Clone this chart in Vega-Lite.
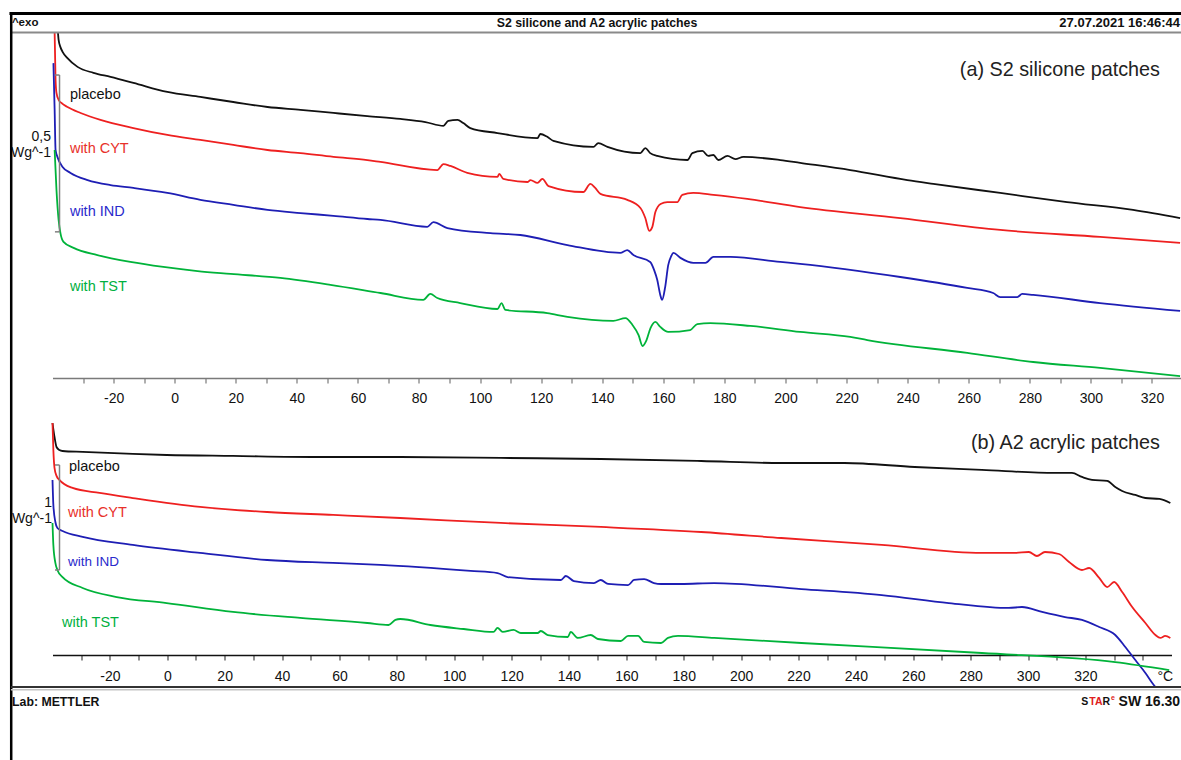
{
  "$schema": "https://vega.github.io/schema/vega-lite/v6.json",
  "autosize": {"type": "none"},
  "padding": {"left": 52.5, "top": 33, "right": 1128.5, "bottom": 727},
  "background": "white",
  "spacing": 35,
  "bounds": "flush",
  "config": {
    "view": {"stroke": null}
  },
  "datasets": {
    "silicone": [
      {"s":"placebo","t":-38.2,"q":1.100},{"s":"placebo","t":-38.0,"q":1.078},{"s":"placebo","t":-37.4,"q":1.055},{"s":"placebo","t":-36.7,"q":1.040},{"s":"placebo","t":-35.1,"q":1.020},{"s":"placebo","t":-31.8,"q":0.992},{"s":"placebo","t":-26.6,"q":0.973},{"s":"placebo","t":-21.0,"q":0.960},{"s":"placebo","t":-13.5,"q":0.941},{"s":"placebo","t":-2.4,"q":0.912},{"s":"placebo","t":8.4,"q":0.896},{"s":"placebo","t":19.2,"q":0.880},{"s":"placebo","t":30.4,"q":0.864},{"s":"placebo","t":41.2,"q":0.855},{"s":"placebo","t":52.0,"q":0.845},{"s":"placebo","t":63.1,"q":0.835},{"s":"placebo","t":73.9,"q":0.826},{"s":"placebo","t":82.1,"q":0.816},{"s":"placebo","t":88.0,"q":0.804},{"s":"placebo","t":89.6,"q":0.820},{"s":"placebo","t":92.6,"q":0.823},{"s":"placebo","t":94.5,"q":0.813},{"s":"placebo","t":96.8,"q":0.797},{"s":"placebo","t":105.7,"q":0.781},{"s":"placebo","t":118.8,"q":0.765},{"s":"placebo","t":119.7,"q":0.778},{"s":"placebo","t":122.0,"q":0.769},{"s":"placebo","t":124.0,"q":0.756},{"s":"placebo","t":137.1,"q":0.737},{"s":"placebo","t":138.7,"q":0.749},{"s":"placebo","t":141.7,"q":0.737},{"s":"placebo","t":152.5,"q":0.717},{"s":"placebo","t":154.1,"q":0.733},{"s":"placebo","t":155.7,"q":0.717},{"s":"placebo","t":158.0,"q":0.708},{"s":"placebo","t":167.9,"q":0.695},{"s":"placebo","t":169.5,"q":0.717},{"s":"placebo","t":172.8,"q":0.724},{"s":"placebo","t":174.7,"q":0.708},{"s":"placebo","t":176.4,"q":0.711},{"s":"placebo","t":178.0,"q":0.695},{"s":"placebo","t":181.0,"q":0.708},{"s":"placebo","t":183.6,"q":0.698},{"s":"placebo","t":186.2,"q":0.705},{"s":"placebo","t":198.3,"q":0.695},{"s":"placebo","t":204.8,"q":0.686},{"s":"placebo","t":221.2,"q":0.663},{"s":"placebo","t":239.9,"q":0.631},{"s":"placebo","t":248.4,"q":0.619},{"s":"placebo","t":270.3,"q":0.590},{"s":"placebo","t":292.2,"q":0.561},{"s":"placebo","t":313.8,"q":0.536},{"s":"placebo","t":329.2,"q":0.510},
      {"s":"with CYT","t":-39.3,"q":1.100},{"s":"with CYT","t":-39.0,"q":0.950},{"s":"with CYT","t":-38.7,"q":0.909},{"s":"with CYT","t":-38.0,"q":0.887},{"s":"with CYT","t":-36.7,"q":0.874},{"s":"with CYT","t":-35.1,"q":0.864},{"s":"with CYT","t":-30.8,"q":0.845},{"s":"with CYT","t":-24.3,"q":0.823},{"s":"with CYT","t":-13.5,"q":0.797},{"s":"with CYT","t":-2.4,"q":0.775},{"s":"with CYT","t":8.4,"q":0.759},{"s":"with CYT","t":19.2,"q":0.743},{"s":"with CYT","t":30.4,"q":0.727},{"s":"with CYT","t":41.2,"q":0.717},{"s":"with CYT","t":52.0,"q":0.705},{"s":"with CYT","t":63.1,"q":0.695},{"s":"with CYT","t":67.4,"q":0.689},{"s":"with CYT","t":86.0,"q":0.663},{"s":"with CYT","t":88.0,"q":0.682},{"s":"with CYT","t":90.3,"q":0.676},{"s":"with CYT","t":95.8,"q":0.654},{"s":"with CYT","t":105.7,"q":0.641},{"s":"with CYT","t":106.3,"q":0.651},{"s":"with CYT","t":107.6,"q":0.635},{"s":"with CYT","t":115.5,"q":0.625},{"s":"with CYT","t":116.5,"q":0.631},{"s":"with CYT","t":118.8,"q":0.622},{"s":"with CYT","t":120.4,"q":0.635},{"s":"with CYT","t":122.4,"q":0.612},{"s":"with CYT","t":133.8,"q":0.593},{"s":"with CYT","t":136.1,"q":0.619},{"s":"with CYT","t":137.7,"q":0.606},{"s":"with CYT","t":139.4,"q":0.587},{"s":"with CYT","t":148.2,"q":0.568},{"s":"with CYT","t":152.5,"q":0.542},{"s":"with CYT","t":154.1,"q":0.510},{"s":"with CYT","t":155.4,"q":0.469},{"s":"with CYT","t":156.4,"q":0.482},{"s":"with CYT","t":157.4,"q":0.529},{"s":"with CYT","t":159.1,"q":0.555},{"s":"with CYT","t":161.3,"q":0.561},{"s":"with CYT","t":164.6,"q":0.561},{"s":"with CYT","t":166.2,"q":0.584},{"s":"with CYT","t":169.8,"q":0.590},{"s":"with CYT","t":176.4,"q":0.584},{"s":"with CYT","t":187.5,"q":0.571},{"s":"with CYT","t":204.8,"q":0.545},{"s":"with CYT","t":237.6,"q":0.510},{"s":"with CYT","t":270.3,"q":0.472},{"s":"with CYT","t":303.0,"q":0.450},{"s":"with CYT","t":329.2,"q":0.431},
      {"s":"with IND","t":-39.7,"q":1.004},{"s":"with IND","t":-39.3,"q":0.855},{"s":"with IND","t":-39.0,"q":0.727},{"s":"with IND","t":-38.4,"q":0.705},{"s":"with IND","t":-36.7,"q":0.673},{"s":"with IND","t":-34.1,"q":0.654},{"s":"with IND","t":-28.5,"q":0.631},{"s":"with IND","t":-21.0,"q":0.615},{"s":"with IND","t":-13.5,"q":0.606},{"s":"with IND","t":-2.4,"q":0.590},{"s":"with IND","t":8.4,"q":0.568},{"s":"with IND","t":19.2,"q":0.552},{"s":"with IND","t":30.4,"q":0.536},{"s":"with IND","t":41.2,"q":0.526},{"s":"with IND","t":52.0,"q":0.517},{"s":"with IND","t":63.1,"q":0.507},{"s":"with IND","t":67.4,"q":0.504},{"s":"with IND","t":82.7,"q":0.482},{"s":"with IND","t":84.7,"q":0.497},{"s":"with IND","t":89.3,"q":0.478},{"s":"with IND","t":103.4,"q":0.462},{"s":"with IND","t":113.2,"q":0.456},{"s":"with IND","t":128.6,"q":0.424},{"s":"with IND","t":145.9,"q":0.399},{"s":"with IND","t":148.2,"q":0.408},{"s":"with IND","t":150.2,"q":0.392},{"s":"with IND","t":155.7,"q":0.370},{"s":"with IND","t":157.0,"q":0.344},{"s":"with IND","t":158.0,"q":0.313},{"s":"with IND","t":159.0,"q":0.265},{"s":"with IND","t":159.6,"q":0.249},{"s":"with IND","t":160.6,"q":0.290},{"s":"with IND","t":161.6,"q":0.360},{"s":"with IND","t":162.6,"q":0.389},{"s":"with IND","t":163.3,"q":0.399},{"s":"with IND","t":165.6,"q":0.383},{"s":"with IND","t":169.8,"q":0.367},{"s":"with IND","t":173.8,"q":0.367},{"s":"with IND","t":176.4,"q":0.386},{"s":"with IND","t":182.0,"q":0.386},{"s":"with IND","t":198.3,"q":0.370},{"s":"with IND","t":204.8,"q":0.364},{"s":"with IND","t":237.6,"q":0.322},{"s":"with IND","t":259.5,"q":0.287},{"s":"with IND","t":268.0,"q":0.271},{"s":"with IND","t":270.3,"q":0.258},{"s":"with IND","t":275.9,"q":0.258},{"s":"with IND","t":277.5,"q":0.268},{"s":"with IND","t":281.1,"q":0.265},{"s":"with IND","t":303.0,"q":0.239},{"s":"with IND","t":329.2,"q":0.214},
      {"s":"with TST","t":-39.3,"q":0.727},{"s":"with TST","t":-38.7,"q":0.600},{"s":"with TST","t":-38.0,"q":0.504},{"s":"with TST","t":-37.4,"q":0.462},{"s":"with TST","t":-36.4,"q":0.434},{"s":"with TST","t":-33.1,"q":0.415},{"s":"with TST","t":-25.3,"q":0.392},{"s":"with TST","t":-14.5,"q":0.370},{"s":"with TST","t":-3.7,"q":0.354},{"s":"with TST","t":7.5,"q":0.341},{"s":"with TST","t":18.3,"q":0.332},{"s":"with TST","t":34.6,"q":0.319},{"s":"with TST","t":51.0,"q":0.297},{"s":"with TST","t":67.4,"q":0.271},{"s":"with TST","t":81.4,"q":0.249},{"s":"with TST","t":83.7,"q":0.268},{"s":"with TST","t":86.0,"q":0.255},{"s":"with TST","t":93.5,"q":0.239},{"s":"with TST","t":105.7,"q":0.220},{"s":"with TST","t":107.0,"q":0.239},{"s":"with TST","t":108.3,"q":0.217},{"s":"with TST","t":122.0,"q":0.207},{"s":"with TST","t":128.6,"q":0.195},{"s":"with TST","t":143.6,"q":0.182},{"s":"with TST","t":147.6,"q":0.191},{"s":"with TST","t":149.9,"q":0.169},{"s":"with TST","t":151.9,"q":0.137},{"s":"with TST","t":153.2,"q":0.102},{"s":"with TST","t":154.5,"q":0.121},{"s":"with TST","t":155.8,"q":0.159},{"s":"with TST","t":157.4,"q":0.179},{"s":"with TST","t":159.0,"q":0.163},{"s":"with TST","t":161.6,"q":0.147},{"s":"with TST","t":168.8,"q":0.153},{"s":"with TST","t":171.1,"q":0.172},{"s":"with TST","t":175.4,"q":0.175},{"s":"with TST","t":188.5,"q":0.166},{"s":"with TST","t":204.8,"q":0.147},{"s":"with TST","t":221.2,"q":0.131},{"s":"with TST","t":226.8,"q":0.121},{"s":"with TST","t":259.5,"q":0.080},{"s":"with TST","t":281.1,"q":0.051},{"s":"with TST","t":303.0,"q":0.032},{"s":"with TST","t":329.2,"q":0.006}
    ],
    "acrylic": [
      {"s":"placebo","t":-40.0,"q":2.205},{"s":"placebo","t":-39.3,"q":2.072},{"s":"placebo","t":-38.6,"q":1.977},{"s":"placebo","t":-37.6,"q":1.949},{"s":"placebo","t":-36.5,"q":1.939},{"s":"placebo","t":-29.5,"q":1.930},{"s":"placebo","t":-12.0,"q":1.911},{"s":"placebo","t":-0.2,"q":1.901},{"s":"placebo","t":22.9,"q":1.892},{"s":"placebo","t":52.2,"q":1.882},{"s":"placebo","t":81.2,"q":1.882},{"s":"placebo","t":116.2,"q":1.873},{"s":"placebo","t":151.1,"q":1.863},{"s":"placebo","t":186.1,"q":1.844},{"s":"placebo","t":214.0,"q":1.825},{"s":"placebo","t":236.0,"q":1.825},{"s":"placebo","t":260.5,"q":1.787},{"s":"placebo","t":283.9,"q":1.759},{"s":"placebo","t":309.4,"q":1.730},{"s":"placebo","t":315.3,"q":1.730},{"s":"placebo","t":318.8,"q":1.692},{"s":"placebo","t":322.3,"q":1.664},{"s":"placebo","t":327.6,"q":1.654},{"s":"placebo","t":330.4,"q":1.597},{"s":"placebo","t":332.8,"q":1.559},{"s":"placebo","t":337.4,"q":1.521},{"s":"placebo","t":340.9,"q":1.492},{"s":"placebo","t":345.8,"q":1.483},{"s":"placebo","t":349.6,"q":1.445},
      {"s":"with CYT","t":-40.0,"q":2.205},{"s":"with CYT","t":-39.7,"q":1.949},{"s":"with CYT","t":-39.3,"q":1.778},{"s":"with CYT","t":-38.6,"q":1.702},{"s":"with CYT","t":-37.6,"q":1.664},{"s":"with CYT","t":-33.0,"q":1.588},{"s":"with CYT","t":-23.6,"q":1.540},{"s":"with CYT","t":-12.0,"q":1.492},{"s":"with CYT","t":11.4,"q":1.407},{"s":"with CYT","t":34.8,"q":1.359},{"s":"with CYT","t":57.8,"q":1.331},{"s":"with CYT","t":81.2,"q":1.302},{"s":"with CYT","t":116.2,"q":1.255},{"s":"with CYT","t":151.1,"q":1.217},{"s":"with CYT","t":186.1,"q":1.169},{"s":"with CYT","t":214.0,"q":1.112},{"s":"with CYT","t":249.0,"q":1.046},{"s":"with CYT","t":283.9,"q":0.970},{"s":"with CYT","t":295.4,"q":0.970},{"s":"with CYT","t":300.3,"q":0.979},{"s":"with CYT","t":303.1,"q":0.941},{"s":"with CYT","t":305.9,"q":0.979},{"s":"with CYT","t":310.8,"q":0.960},{"s":"with CYT","t":314.3,"q":0.884},{"s":"with CYT","t":318.8,"q":0.808},{"s":"with CYT","t":321.3,"q":0.827},{"s":"with CYT","t":324.8,"q":0.732},{"s":"with CYT","t":327.6,"q":0.646},{"s":"with CYT","t":330.0,"q":0.694},{"s":"with CYT","t":332.8,"q":0.599},{"s":"with CYT","t":336.3,"q":0.456},{"s":"with CYT","t":340.9,"q":0.304},{"s":"with CYT","t":344.4,"q":0.190},{"s":"with CYT","t":346.1,"q":0.162},{"s":"with CYT","t":347.8,"q":0.181},{"s":"with CYT","t":349.6,"q":0.162},
      {"s":"with IND","t":-40.0,"q":1.664},{"s":"with IND","t":-39.7,"q":1.426},{"s":"with IND","t":-39.0,"q":1.264},{"s":"with IND","t":-38.3,"q":1.207},{"s":"with IND","t":-36.5,"q":1.179},{"s":"with IND","t":-29.5,"q":1.122},{"s":"with IND","t":-12.0,"q":1.046},{"s":"with IND","t":11.4,"q":0.970},{"s":"with IND","t":34.8,"q":0.903},{"s":"with IND","t":57.8,"q":0.875},{"s":"with IND","t":74.3,"q":0.856},{"s":"with IND","t":105.7,"q":0.799},{"s":"with IND","t":115.1,"q":0.779},{"s":"with IND","t":118.6,"q":0.741},{"s":"with IND","t":137.2,"q":0.713},{"s":"with IND","t":138.9,"q":0.751},{"s":"with IND","t":141.7,"q":0.703},{"s":"with IND","t":148.7,"q":0.684},{"s":"with IND","t":151.1,"q":0.713},{"s":"with IND","t":153.6,"q":0.675},{"s":"with IND","t":160.6,"q":0.665},{"s":"with IND","t":162.7,"q":0.713},{"s":"with IND","t":166.2,"q":0.722},{"s":"with IND","t":169.6,"q":0.684},{"s":"with IND","t":172.1,"q":0.675},{"s":"with IND","t":179.1,"q":0.675},{"s":"with IND","t":190.6,"q":0.684},{"s":"with IND","t":221.0,"q":0.627},{"s":"with IND","t":249.0,"q":0.570},{"s":"with IND","t":272.4,"q":0.494},{"s":"with IND","t":293.3,"q":0.447},{"s":"with IND","t":297.9,"q":0.456},{"s":"with IND","t":304.9,"q":0.409},{"s":"with IND","t":312.9,"q":0.361},{"s":"with IND","t":318.8,"q":0.333},{"s":"with IND","t":324.8,"q":0.266},{"s":"with IND","t":330.4,"q":0.190},{"s":"with IND","t":333.9,"q":0.076},{"s":"with IND","t":337.4,"q":-0.048},{"s":"with IND","t":340.9,"q":-0.171},{"s":"with IND","t":343.3,"q":-0.266},{"s":"with IND","t":344.4,"q":-0.304},
      {"s":"with TST","t":-40.0,"q":1.255},{"s":"with TST","t":-39.7,"q":1.046},{"s":"with TST","t":-39.0,"q":0.875},{"s":"with TST","t":-38.3,"q":0.808},{"s":"with TST","t":-36.5,"q":0.741},{"s":"with TST","t":-29.5,"q":0.637},{"s":"with TST","t":-17.6,"q":0.551},{"s":"with TST","t":-0.2,"q":0.494},{"s":"with TST","t":22.9,"q":0.409},{"s":"with TST","t":46.3,"q":0.352},{"s":"with TST","t":69.7,"q":0.304},{"s":"with TST","t":77.1,"q":0.285},{"s":"with TST","t":79.5,"q":0.333},{"s":"with TST","t":81.2,"q":0.342},{"s":"with TST","t":91.7,"q":0.285},{"s":"with TST","t":103.3,"q":0.247},{"s":"with TST","t":113.7,"q":0.219},{"s":"with TST","t":115.1,"q":0.257},{"s":"with TST","t":116.9,"q":0.219},{"s":"with TST","t":120.7,"q":0.238},{"s":"with TST","t":123.2,"q":0.209},{"s":"with TST","t":129.1,"q":0.209},{"s":"with TST","t":130.2,"q":0.228},{"s":"with TST","t":132.6,"q":0.190},{"s":"with TST","t":139.6,"q":0.171},{"s":"with TST","t":140.6,"q":0.219},{"s":"with TST","t":143.1,"q":0.162},{"s":"with TST","t":147.6,"q":0.190},{"s":"with TST","t":150.1,"q":0.152},{"s":"with TST","t":158.1,"q":0.133},{"s":"with TST","t":160.6,"q":0.181},{"s":"with TST","t":164.1,"q":0.181},{"s":"with TST","t":166.2,"q":0.124},{"s":"with TST","t":172.1,"q":0.114},{"s":"with TST","t":174.5,"q":0.162},{"s":"with TST","t":178.0,"q":0.181},{"s":"with TST","t":190.6,"q":0.162},{"s":"with TST","t":221.0,"q":0.114},{"s":"with TST","t":283.9,"q":0.019},{"s":"with TST","t":330.4,"q":-0.067},{"s":"with TST","t":349.2,"q":-0.143}
    ]
  },
  "vconcat": [
    {
      "width": 1128.5,
      "height": 345,
      "resolve": {"axis": {"x": "independent", "y": "independent"}},
      "layer": [
        {
          "data": {"name": "silicone"},
          "mark": {"type": "line", "strokeWidth": 1.8, "interpolate": "monotone", "clip": false},
          "encoding": {
            "x": {"field": "t", "type": "quantitative", "scale": {"domain": [-40, 329.5], "nice": false, "zero": false},
              "axis": {"orient": "bottom", "title": null, "grid": false,
                "values": [-30,-20,-10,0,10,20,30,40,50,60,70,80,90,100,110,120,130,140,150,160,170,180,190,200,210,220,230,240,250,260,270,280,290,300,310,320],
                "labelExpr": "datum.value % 20 == 0 ? '' + datum.value : ''",
                "labelOverlap": false, "labelFlush": false, "labelFont": "Liberation Sans", "labelFontSize": 14, "labelColor": "#111111",
                "tickSize": 5, "tickWidth": 1.2, "domainWidth": 1.5,
                "domainColor": "#7a7a7a", "tickColor": "#7a7a7a", "labelPadding": 8}},
            "y": {"field": "q", "type": "quantitative", "scale": {"domain": [0, 1.1], "nice": false, "zero": false}, "axis": null},
            "color": {"field": "s", "type": "nominal", "legend": null,
              "scale": {"domain": ["placebo", "with CYT", "with IND", "with TST"], "range": ["#111111", "#ee2020", "#1e1eb4", "#00b33a"]}}
          }
        },
        {"data": {"values": [{}]}, "mark": {"type": "rule", "color": "#808080", "strokeWidth": 1.5, "clip": false},
          "encoding": {"x": {"datum": -37.7, "axis": null}, "y": {"datum": 0.466, "axis": null}, "y2": {"datum": 0.966}}},
        {"data": {"values": [{}]}, "mark": {"type": "rule", "color": "#808080", "strokeWidth": 1.5, "clip": false},
          "encoding": {"x": {"datum": -39.2, "axis": null}, "x2": {"datum": -37.7}, "y": {"datum": 0.466, "axis": null}}},
        {"data": {"values": [{}]}, "mark": {"type": "rule", "color": "#808080", "strokeWidth": 1.5, "clip": false},
          "encoding": {"x": {"datum": -39.2, "axis": null}, "x2": {"datum": -37.7}, "y": {"datum": 0.966, "axis": null}}},
        {"data": {"values": [{}]}, "mark": {"type": "text", "text": "placebo", "align": "left", "baseline": "middle", "font": "Liberation Sans", "fontSize": 14.5, "color": "#111111"},
          "encoding": {"x": {"datum": -34.3, "axis": null}, "y": {"datum": 0.902, "axis": null}}},
        {"data": {"values": [{}]}, "mark": {"type": "text", "text": "with CYT", "align": "left", "baseline": "middle", "font": "Liberation Sans", "fontSize": 14.5, "color": "#e8302a"},
          "encoding": {"x": {"datum": -34.3, "axis": null}, "y": {"datum": 0.730, "axis": null}}},
        {"data": {"values": [{}]}, "mark": {"type": "text", "text": "with IND", "align": "left", "baseline": "middle", "font": "Liberation Sans", "fontSize": 14.5, "color": "#2a2acc"},
          "encoding": {"x": {"datum": -34.3, "axis": null}, "y": {"datum": 0.529, "axis": null}}},
        {"data": {"values": [{}]}, "mark": {"type": "text", "text": "with TST", "align": "left", "baseline": "middle", "font": "Liberation Sans", "fontSize": 14.5, "color": "#00b040"},
          "encoding": {"x": {"datum": -34.3, "axis": null}, "y": {"datum": 0.290, "axis": null}}},
        {"data": {"values": [{}]}, "mark": {"type": "text", "text": "0,5", "align": "right", "baseline": "middle", "font": "Liberation Sans", "fontSize": 14, "color": "#111111"},
          "encoding": {"x": {"datum": -40.5, "axis": null}, "y": {"datum": 0.768, "axis": null}}},
        {"data": {"values": [{}]}, "mark": {"type": "text", "text": "Wg^-1", "align": "right", "baseline": "middle", "font": "Liberation Sans", "fontSize": 14, "color": "#111111"},
          "encoding": {"x": {"datum": -40.5, "axis": null}, "y": {"datum": 0.717, "axis": null}}},
        {"data": {"values": [{}]}, "mark": {"type": "text", "text": "(a) S2 silicone patches", "align": "right", "baseline": "middle", "font": "Liberation Sans", "fontSize": 19.8, "color": "#222222"},
          "encoding": {"x": {"datum": 322.6, "axis": null}, "y": {"datum": 0.982, "axis": null}}},
        {"data": {"values": [{}]}, "mark": {"type": "text", "text": "^exo", "align": "left", "baseline": "middle", "font": "Liberation Sans", "fontWeight": "bold", "fontSize": 11.5, "color": "#111111"},
          "encoding": {"x": {"datum": -53.3, "axis": null}, "y": {"datum": 1.132, "axis": null}}},
        {"data": {"values": [{}]}, "mark": {"type": "text", "text": "S2 silicone and A2 acrylic patches", "align": "center", "baseline": "middle", "font": "Liberation Sans", "fontWeight": "bold", "fontSize": 12.3, "color": "#111111"},
          "encoding": {"x": {"datum": 138.3, "axis": null}, "y": {"datum": 1.132, "axis": null}}},
        {"data": {"values": [{}]}, "mark": {"type": "text", "text": "27.07.2021 16:46:44", "align": "right", "baseline": "middle", "font": "Liberation Sans", "fontWeight": "bold", "fontSize": 13, "color": "#111111"},
          "encoding": {"x": {"datum": 329.2, "axis": null}, "y": {"datum": 1.132, "axis": null}}},
        {"data": {"values": [{}]}, "mark": {"type": "rule", "color": "#8a8a8a", "strokeWidth": 2, "clip": false},
          "encoding": {"x": {"datum": -53.5, "axis": null}, "x2": {"datum": 331}, "y": {"datum": 1.1017, "axis": null}}},
        {"data": {"values": [{}]}, "mark": {"type": "rule", "color": "#000000", "strokeWidth": 3, "clip": false},
          "encoding": {"x": {"datum": -54.1, "axis": null}, "x2": {"datum": 331}, "y": {"datum": 1.1623, "axis": null}}},
        {"data": {"values": [{}]}, "mark": {"type": "rule", "color": "#000000", "strokeWidth": 2.5, "clip": false},
          "encoding": {"x": {"datum": -53.52, "axis": null}, "y": {"datum": 1.1623, "axis": null}, "y2": {"datum": -1.26}}}
      ]
    },
    {
      "width": 1119,
      "height": 242,
      "resolve": {"axis": {"x": "independent", "y": "independent"}},
      "layer": [
        {
          "data": {"name": "acrylic"},
          "mark": {"type": "line", "strokeWidth": 1.8, "interpolate": "monotone", "clip": false},
          "encoding": {
            "x": {"field": "t", "type": "quantitative", "scale": {"domain": [-40, 350], "nice": false, "zero": false},
              "axis": {"orient": "bottom", "title": null, "grid": false,
                "values": [-30,-20,-10,0,10,20,30,40,50,60,70,80,90,100,110,120,130,140,150,160,170,180,190,200,210,220,230,240,250,260,270,280,290,300,310,320,330,340],
                "labelExpr": "datum.value == 340 ? '°C' : (datum.value % 20 == 0 ? '' + datum.value : '')",
                "labelOffset": {"condition": {"test": "datum.value == 340", "value": 22}, "value": 0},
                "labelOverlap": false, "labelFlush": false, "labelFont": "Liberation Sans", "labelFontSize": 14, "labelColor": "#111111",
                "tickSize": 5, "tickWidth": 1.2, "domainWidth": 1.5,
                "domainColor": "#111111", "tickColor": "#444444", "labelPadding": 9}},
            "y": {"field": "q", "type": "quantitative", "scale": {"domain": [0, 2.3], "nice": false, "zero": false}, "axis": null},
            "color": {"field": "s", "type": "nominal", "legend": null,
              "scale": {"domain": ["placebo", "with CYT", "with IND", "with TST"], "range": ["#111111", "#ee2020", "#1e1eb4", "#00b33a"]}}
          }
        },
        {"data": {"values": [{}]}, "mark": {"type": "rule", "color": "#808080", "strokeWidth": 1.5, "clip": false},
          "encoding": {"x": {"datum": -37.56, "axis": null}, "y": {"datum": 0.808, "axis": null}, "y2": {"datum": 1.806}}},
        {"data": {"values": [{}]}, "mark": {"type": "rule", "color": "#808080", "strokeWidth": 1.5, "clip": false},
          "encoding": {"x": {"datum": -39.13, "axis": null}, "x2": {"datum": -37.56}, "y": {"datum": 0.808, "axis": null}}},
        {"data": {"values": [{}]}, "mark": {"type": "rule", "color": "#808080", "strokeWidth": 1.5, "clip": false},
          "encoding": {"x": {"datum": -39.13, "axis": null}, "x2": {"datum": -37.56}, "y": {"datum": 1.806, "axis": null}}},
        {"data": {"values": [{}]}, "mark": {"type": "text", "text": "placebo", "align": "left", "baseline": "middle", "font": "Liberation Sans", "fontSize": 14.5, "color": "#111111"},
          "encoding": {"x": {"datum": -34.25, "axis": null}, "y": {"datum": 1.787, "axis": null}}},
        {"data": {"values": [{}]}, "mark": {"type": "text", "text": "with CYT", "align": "left", "baseline": "middle", "font": "Liberation Sans", "fontSize": 14.5, "color": "#e8302a"},
          "encoding": {"x": {"datum": -34.6, "axis": null}, "y": {"datum": 1.350, "axis": null}}},
        {"data": {"values": [{}]}, "mark": {"type": "text", "text": "with IND", "align": "left", "baseline": "middle", "font": "Liberation Sans", "fontSize": 13.5, "color": "#2a2acc"},
          "encoding": {"x": {"datum": -34.6, "axis": null}, "y": {"datum": 0.884, "axis": null}}},
        {"data": {"values": [{}]}, "mark": {"type": "text", "text": "with TST", "align": "left", "baseline": "middle", "font": "Liberation Sans", "fontSize": 14.5, "color": "#00b040"},
          "encoding": {"x": {"datum": -36.7, "axis": null}, "y": {"datum": 0.304, "axis": null}}},
        {"data": {"values": [{}]}, "mark": {"type": "text", "text": "1", "align": "right", "baseline": "middle", "font": "Liberation Sans", "fontSize": 14, "color": "#111111"},
          "encoding": {"x": {"datum": -40.2, "axis": null}, "y": {"datum": 1.445, "axis": null}}},
        {"data": {"values": [{}]}, "mark": {"type": "text", "text": "Wg^-1", "align": "right", "baseline": "middle", "font": "Liberation Sans", "fontSize": 14, "color": "#111111"},
          "encoding": {"x": {"datum": -40.2, "axis": null}, "y": {"datum": 1.293, "axis": null}}},
        {"data": {"values": [{}]}, "mark": {"type": "text", "text": "(b) A2 acrylic patches", "align": "right", "baseline": "middle", "font": "Liberation Sans", "fontSize": 19.8, "color": "#222222"},
          "encoding": {"x": {"datum": 346.0, "axis": null}, "y": {"datum": 2.015, "axis": null}}},
        {"data": {"values": [{}]}, "mark": {"type": "rule", "color": "#333333", "strokeWidth": 2, "clip": false},
          "encoding": {"x": {"datum": -54.5, "axis": null}, "x2": {"datum": 356}, "y": {"datum": -0.304, "axis": null}}},
        {"data": {"values": [{}]}, "mark": {"type": "rule", "color": "#c4c4c4", "strokeWidth": 1.5, "clip": false},
          "encoding": {"x": {"datum": -54.5, "axis": null}, "x2": {"datum": 356}, "y": {"datum": -0.330, "axis": null}}},
        {"data": {"values": [{}]}, "mark": {"type": "text", "text": "Lab: METTLER", "align": "left", "baseline": "middle", "font": "Liberation Sans", "fontWeight": "bold", "fontSize": 12.3, "color": "#111111"},
          "encoding": {"x": {"datum": -54.1, "axis": null}, "y": {"datum": -0.447, "axis": null}}},
        {"data": {"values": [{}]}, "mark": {"type": "text", "text": "SW 16.30", "align": "right", "baseline": "middle", "font": "Liberation Sans", "fontWeight": "bold", "fontSize": 14, "color": "#111111"},
          "encoding": {"x": {"datum": 353.0, "axis": null}, "y": {"datum": -0.447, "axis": null}}},
        {"data": {"values": [{}]}, "mark": {"type": "text", "text": "R", "align": "right", "baseline": "middle", "dx": -70, "font": "Liberation Sans", "fontWeight": "bold", "fontSize": 10.5, "color": "#111111"},
          "encoding": {"x": {"datum": 353.0, "axis": null}, "y": {"datum": -0.447, "axis": null}}},
        {"data": {"values": [{}]}, "mark": {"type": "text", "text": "TA", "align": "right", "baseline": "middle", "dx": -77.6, "font": "Liberation Sans", "fontWeight": "bold", "fontSize": 10.5, "color": "#e02020"},
          "encoding": {"x": {"datum": 353.0, "axis": null}, "y": {"datum": -0.447, "axis": null}}},
        {"data": {"values": [{}]}, "mark": {"type": "text", "text": "S", "align": "right", "baseline": "middle", "dx": -91.8, "font": "Liberation Sans", "fontWeight": "bold", "fontSize": 10.5, "color": "#111111"},
          "encoding": {"x": {"datum": 353.0, "axis": null}, "y": {"datum": -0.447, "axis": null}}},
        {"data": {"values": [{}]}, "mark": {"type": "text", "text": "e", "align": "left", "baseline": "middle", "dx": -69.2, "dy": -4, "font": "Liberation Sans", "fontWeight": "bold", "fontSize": 7, "color": "#e02020"},
          "encoding": {"x": {"datum": 353.0, "axis": null}, "y": {"datum": -0.447, "axis": null}}}
      ]
    }
  ]
}
